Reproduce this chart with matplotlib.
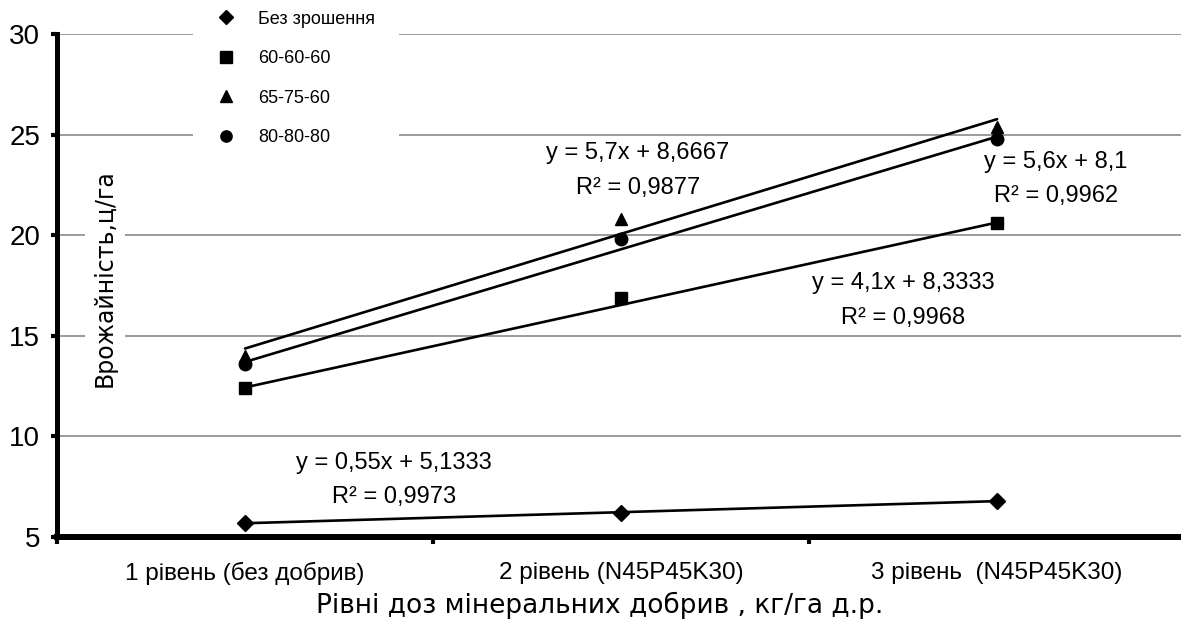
import matplotlib
matplotlib.use("Agg")
import matplotlib.pyplot as plt
from matplotlib.transforms import blended_transform_factory
import numpy as np

plt.rcParams.update({
    "font.family": ["Liberation Sans", "DejaVu Sans"],
})

# data
levels = ["1 рівень (без добрив)", "2 рівень (N45P45K30)", "3 рівень  (N45P45K30)"]
series_names = ["Без зрошення", "60-60-60", "65-75-60", "80-80-80"]
markers = ["D", "s", "^", "o"]

bez_zroshennia = [5.7, 6.2, 6.8]
v60_60_60 = [12.4, 16.9, 20.6]
v65_75_60 = [14.0, 20.8, 25.4]
v80_80_80 = [13.6, 19.8, 24.8]

# linear trend coefficients as printed on the chart
slopes = [0.55, 4.1, 5.7, 5.6]
intercepts = [5.1333, 8.3333, 8.6667, 8.1]
r2 = ["0,9973", "0,9968", "0,9877", "0,9962"]
eq_text = ["y = 0,55x + 5,1333", "y = 4,1x + 8,3333",
           "y = 5,7x + 8,6667", "y = 5,6x + 8,1"]
eq_pos = [(1.396, 7.83), (2.75, 16.75), (2.045, 23.22), (3.157, 22.79)]

values = [bez_zroshennia, v60_60_60, v65_75_60, v80_80_80]
x = np.arange(1, len(levels) + 1)

fig = plt.figure(figsize=(11.81, 6.21), dpi=100)
ax = fig.add_axes([57 / 1181, 84 / 621, 1124 / 1181, 503 / 621])

# trend lines
for k, b in zip(slopes, intercepts):
    ax.plot([x[0], x[-1]], [k * x[0] + b, k * x[-1] + b],
            color="black", lw=1.9, zorder=3, solid_capstyle="round")

# points
for vals, m, name in zip(values, markers, series_names):
    ms = 8 if m == "D" else 9
    ax.plot(x, vals, ls="none", marker=m, ms=ms, color="black",
            label=name, zorder=4)

# equations
for txt, r, (px, py) in zip(eq_text, r2, eq_pos):
    ax.text(px, py, txt + "\nR² = " + r, ha="center", va="center",
            fontsize=17, linespacing=1.75, zorder=5)

ax.set_xlim(0.5, 3.489)
ax.set_ylim(5, 30)
ax.set_yticks([5, 10, 15, 20, 25, 30])
ax.tick_params(axis="y", direction="out", length=4, width=3, pad=8,
               labelsize=20)
ax.set_xticks([0.5, 1.5, 2.5])
ax.set_xticklabels([])
ax.tick_params(axis="x", which="major", direction="out", length=5, width=3)
ax.set_xticks(x, minor=True)
ax.set_xticklabels(levels, minor=True)
ax.tick_params(axis="x", which="minor", length=0, pad=18, labelsize=17.5)

ax.grid(axis="y", color="#808080", lw=1.1, zorder=0)
ax.set_axisbelow(True)
for s in ["top", "right"]:
    ax.spines[s].set_visible(False)
ax.spines["left"].set_linewidth(3.6)
ax.spines["bottom"].set_linewidth(4.3)

# y label sits inside the plot area
ax.text(0.0427, 17.87, "Врожайність,ц/га", rotation=90, ha="center",
        va="center", fontsize=17, family="DejaVu Sans",
        transform=blended_transform_factory(ax.transAxes, ax.transData),
        bbox=dict(fc="white", ec="none", pad=6), zorder=3)

fig.text(600 / 1181, (621 - 605) / 621, "Рівні доз мінеральних добрив , кг/га д.р.",
         ha="center", va="center", fontsize=19, family="DejaVu Sans")

leg = ax.legend(loc="upper left", bbox_to_anchor=(193 / 1181, (621 + 13.5) / 621),
                bbox_transform=fig.transFigure, fontsize=13, handlelength=1.0,
                handletextpad=1.27, labelspacing=1.25, borderpad=1.33,
                borderaxespad=0, markerscale=0.9, fancybox=False)
leg.get_frame().set_facecolor("white")
leg.get_frame().set_edgecolor("none")
leg.get_frame().set_alpha(1)

fig.savefig("out.png", dpi=100)
